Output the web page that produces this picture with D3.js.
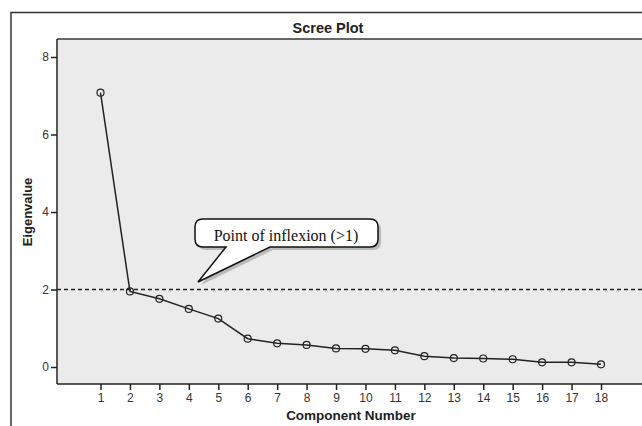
<html>
<head>
<script src="https://d3js.org/d3.v7.min.js"></script>
<style>
  body { margin: 0; background: #fff; }
</style>
</head>
<body>
<svg id="chart" width="642" height="426" font-family="Liberation Sans, Arial, sans-serif"></svg>
<script>
// scree plot values
var components = [1,2,3,4,5,6,7,8,9,10,11,12,13,14,15,16,17,18];
var eigenvalues = [7.08,1.95,1.76,1.50,1.25,0.73,0.61,0.57,0.48,0.47,0.43,0.28,0.23,0.22,0.20,0.12,0.12,0.07];
var yTicks = [0,2,4,6,8];
var cutoff = 2;
var calloutText = "Point of inflexion (>1)";

var svg = d3.select("#chart");

var plotL = 57, plotT = 39, plotR = 642, plotB = 384;

var x = d3.scaleLinear().domain([1, 18]).range([100.5, 601]);
var y = d3.scaleLinear().domain([0, 8]).range([367, 57]);

// outer frame
svg.append("rect")
  .attr("x", 11).attr("y", 12.5)
  .attr("width", 700).attr("height", 500)
  .attr("fill", "none").attr("stroke", "#333").attr("stroke-width", 1.5);

svg.append("text")
  .attr("x", 328).attr("y", 33)
  .attr("text-anchor", "middle")
  .attr("font-size", 14.5).attr("font-weight", "bold").attr("fill", "#222")
  .text("Scree Plot");

// plot area
svg.append("rect")
  .attr("x", plotL).attr("y", plotT)
  .attr("width", plotR - plotL).attr("height", plotB - plotT)
  .attr("fill", "#ebebeb");
svg.append("line")
  .attr("x1", plotL).attr("x2", plotR).attr("y1", plotT).attr("y2", plotT)
  .attr("stroke", "#666").attr("stroke-width", 2);

// axes
var yAxis = svg.append("g")
  .attr("transform", "translate(" + plotL + ",0)")
  .call(d3.axisLeft(y).tickValues(yTicks).tickSize(6).tickPadding(2));
yAxis.select(".domain").attr("d", "M0," + plotT + "V" + plotB).attr("stroke", "#222").attr("stroke-width", 1.5);

var xAxis = svg.append("g")
  .attr("transform", "translate(0," + plotB + ")")
  .call(d3.axisBottom(x).tickValues(components).tickSize(6).tickPadding(3));
xAxis.select(".domain").attr("d", "M" + plotL + ",0H" + plotR).attr("stroke", "#222").attr("stroke-width", 1.5);

svg.selectAll(".tick line").attr("stroke", "#222").attr("stroke-width", 1.5);
svg.selectAll(".tick text")
  .style("font-family", "Liberation Sans, Arial, sans-serif")
  .style("font-size", "12px").attr("fill", "#333");

svg.append("text")
  .attr("transform", "translate(32,212) rotate(-90)")
  .attr("text-anchor", "middle")
  .attr("font-size", 13).attr("font-weight", "bold").attr("fill", "#222")
  .text("Eigenvalue");

svg.append("text")
  .attr("x", 351).attr("y", 420)
  .attr("text-anchor", "middle")
  .attr("font-size", 13.5).attr("font-weight", "bold").attr("fill", "#222")
  .text("Component Number");

// cutoff line
svg.append("line")
  .attr("x1", plotL).attr("x2", plotR)
  .attr("y1", y(cutoff)).attr("y2", y(cutoff))
  .attr("stroke", "#222").attr("stroke-width", 1.3)
  .attr("stroke-dasharray", "4,3");

// scree line and markers
var pts = components.map(function(c, i) { return [c, eigenvalues[i]]; });
svg.append("path")
  .datum(pts)
  .attr("d", d3.line().x(function(d) { return x(d[0]); }).y(function(d) { return y(d[1]); }))
  .attr("fill", "none").attr("stroke", "#222").attr("stroke-width", 1.5);

svg.selectAll("circle.pt")
  .data(pts)
  .enter().append("circle")
  .attr("class", "pt")
  .attr("cx", function(d) { return x(d[0]); })
  .attr("cy", function(d) { return y(d[1]); })
  .attr("r", 3.5)
  .attr("fill", "none").attr("stroke", "#222").attr("stroke-width", 1.2);

// callout bubble
function bubblePath(dx, dy) {
  var l = 195 + dx, r = 378 + dx, t = 219 + dy, b = 247 + dy, rr = 8;
  return "M" + (l + rr) + "," + t +
    "H" + (r - rr) + "Q" + r + "," + t + " " + r + "," + (t + rr) +
    "V" + (b - rr) + "Q" + r + "," + b + " " + (r - rr) + "," + b +
    "H" + (270 + dx) + "L" + (198 + dx) + "," + (282 + dy) + "L" + (226 + dx) + "," + b +
    "H" + (l + rr) + "Q" + l + "," + b + " " + l + "," + (b - rr) +
    "V" + (t + rr) + "Q" + l + "," + t + " " + (l + rr) + "," + t + "Z";
}
svg.append("path").attr("d", bubblePath(3, 3)).attr("fill", "#999").attr("opacity", 0.6);
svg.append("path").attr("d", bubblePath(0, 0))
  .attr("fill", "#fff").attr("stroke", "#111").attr("stroke-width", 1.5);
svg.append("text")
  .attr("x", 286).attr("y", 241)
  .attr("text-anchor", "middle")
  .attr("font-family", "Liberation Serif, Times New Roman, serif")
  .attr("font-size", 16).attr("fill", "#111")
  .text(calloutText);
</script>
</body>
</html>
